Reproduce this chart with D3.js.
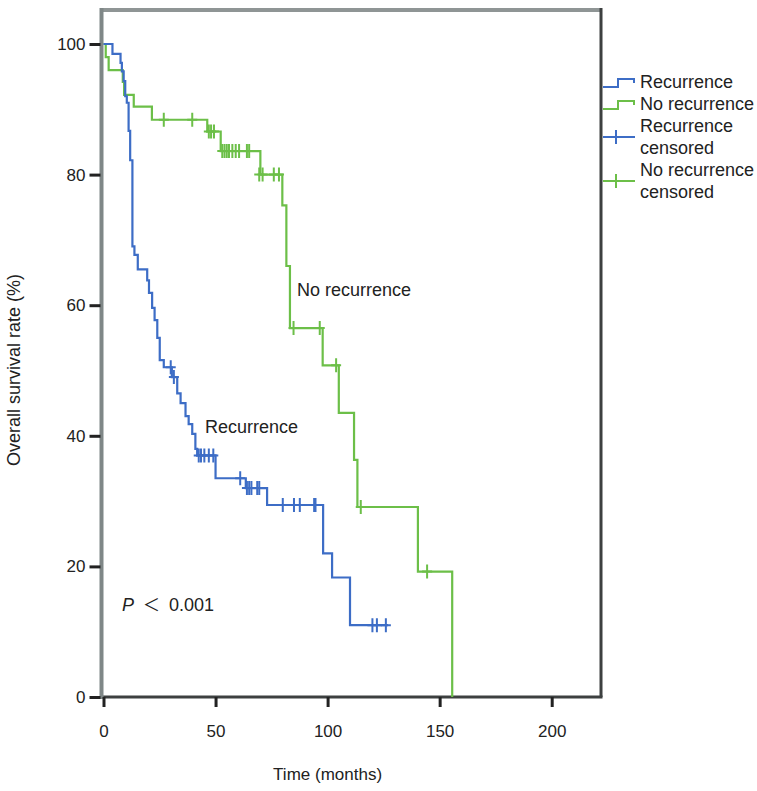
<!DOCTYPE html>
<html>
<head>
<meta charset="utf-8">
<script src="https://cdn.jsdelivr.net/npm/d3@7"></script>
<style>
  html, body { margin: 0; padding: 0; background: #fff; }
  svg { display: block; }
  text { font-family: "Liberation Sans", Arial, sans-serif; fill: #222; }
</style>
</head>
<body>
<svg id="chart" width="757" height="791"></svg>
<script>
// ---- data ----
const xTicks = [0, 50, 100, 150, 200];
const yTicks = [0, 20, 40, 60, 80, 100];

// Recurrence: [time (months), survival (%)] after each step
const recurrenceSteps = [
  [0, 100], [4, 98.5], [7.6, 97.1], [8.2, 95.8], [9, 94.3], [9.7, 92], [10.4, 91],
  [11.2, 86.7], [11.9, 82.2], [12.9, 69], [13.8, 67.7], [15.3, 65.5], [19.5, 63.8],
  [20.3, 61.9], [21.7, 59.6], [22.8, 57.7], [24, 55], [25.1, 51.6], [26.9, 50.5],
  [30.5, 49], [32.9, 46.5], [34.4, 45], [36.6, 43], [38, 41.8], [39.6, 40.3],
  [41, 38], [41.8, 37], [50, 33.5], [63.5, 32], [73, 29.4], [98, 22], [102, 18.3],
  [110, 11], [127, 11]
];
const recurrenceCensored = [
  [30, 50.5], [31.4, 49], [42.5, 37], [43.5, 37], [45, 37], [47, 37], [49, 37],
  [61, 33.5], [64, 32], [65, 32], [66, 32], [68.6, 32], [69.5, 32],
  [80, 29.4], [85, 29.4], [87.6, 29.4], [94, 29.4], [94.6, 29.4],
  [120, 11], [122, 11], [126, 11]
];

// No recurrence
const noRecurrenceSteps = [
  [0, 100], [1, 98], [2.3, 96], [8.6, 94.2], [9.2, 92.2], [13.5, 90.4], [21.6, 88.4],
  [46.3, 86.6], [52.3, 83.6], [70, 80], [79.8, 75.3], [81.6, 66], [83.2, 56.5],
  [97.8, 50.8], [105, 43.5], [111.8, 36.3], [113.3, 29.1], [140.3, 19.2], [155.6, 0]
];
const noRecurrenceCensored = [
  [26.9, 88.4], [39.6, 88.4], [47, 86.6], [48, 86.6], [49.3, 86.6],
  [53, 83.6], [54, 83.6], [55, 83.6], [56, 83.6], [57.5, 83.6], [59, 83.6], [60.5, 83.6],
  [64, 83.6], [65, 83.6], [69.5, 80], [71, 80], [76, 80], [78.3, 80],
  [84.8, 56.5], [96.5, 56.5], [103.8, 50.8], [114.8, 29.1], [144.4, 19.2]
];

const seriesNames = ["Recurrence", "No recurrence"];
const legendLabels = [["Recurrence"], ["No recurrence"], ["Recurrence", "censored"], ["No recurrence", "censored"]];

// ---- drawing ----
const svg = d3.select("#chart");
const blue = "#3d6dc6", green = "#6cbf48";

const x = d3.scaleLinear().domain([0, 222]).range([103.5, 601]);
const y = d3.scaleLinear().domain([0, 100]).range([697, 44]);

const frameLeft = 101.5, frameRight = 601, frameTop = 10, frameBottom = 697;

// frame
svg.append("line").attr("x1", frameLeft).attr("x2", frameRight).attr("y1", frameTop).attr("y2", frameTop)
  .attr("stroke", "#8f9595").attr("stroke-width", 4);
svg.append("line").attr("x1", frameRight).attr("x2", frameRight).attr("y1", frameTop - 2).attr("y2", frameBottom)
  .attr("stroke", "#3d4040").attr("stroke-width", 3);
svg.append("line").attr("x1", frameLeft).attr("x2", frameRight + 1.5).attr("y1", frameBottom).attr("y2", frameBottom)
  .attr("stroke", "#3d4040").attr("stroke-width", 3);
svg.append("line").attr("x1", frameLeft).attr("x2", frameLeft).attr("y1", frameTop - 2).attr("y2", frameBottom + 2)
  .attr("stroke", "#7f8787").attr("stroke-width", 4);

// y axis
const yAxis = d3.axisLeft(y).tickValues(yTicks).tickSize(11).tickPadding(4).tickFormat(d3.format("d"));
const gy = svg.append("g").attr("transform", `translate(${frameLeft - 1},0)`).call(yAxis);
gy.select(".domain").remove();
gy.selectAll(".tick line").attr("stroke", "#222").attr("stroke-width", 3);
gy.selectAll(".tick text").attr("font-size", 17).attr("fill", "#222");

// x axis
const xAxis = d3.axisBottom(x).tickValues(xTicks).tickSize(10).tickPadding(18).tickFormat(d3.format("d"));
const gx = svg.append("g").attr("transform", `translate(0,${frameBottom})`).call(xAxis);
gx.select(".domain").remove();
gx.selectAll(".tick line").attr("stroke", "#222").attr("stroke-width", 3);
gx.selectAll(".tick text").attr("font-size", 17).attr("fill", "#222");

// axis titles
svg.append("text").attr("x", x(100)).attr("y", 780).attr("text-anchor", "middle")
  .attr("font-size", 17).text("Time (months)");
svg.append("text").attr("transform", `translate(20,370) rotate(-90)`).attr("text-anchor", "middle")
  .attr("font-size", 18).text("Overall survival rate (%)");

// curves
const line = d3.line().x(d => x(d[0])).y(d => y(d[1])).curve(d3.curveStepAfter);
svg.append("path").datum(noRecurrenceSteps).attr("d", line)
  .attr("fill", "none").attr("stroke", green).attr("stroke-width", 2.2);
svg.append("path").datum(recurrenceSteps).attr("d", line)
  .attr("fill", "none").attr("stroke", blue).attr("stroke-width", 2.2);

function censor(g, data, color) {
  g.selectAll("path.c").data(data).join("path").attr("class", "c")
    .attr("d", d => `M${x(d[0]) - 5},${y(d[1])}H${x(d[0]) + 5}M${x(d[0])},${y(d[1]) - 7}V${y(d[1]) + 7}`)
    .attr("stroke", color).attr("stroke-width", 2).attr("fill", "none");
}
censor(svg.append("g"), noRecurrenceCensored, green);
censor(svg.append("g"), recurrenceCensored, blue);

// annotations
svg.append("text").attr("x", 297).attr("y", 296).attr("font-size", 18).text(seriesNames[1]);
svg.append("text").attr("x", 205).attr("y", 433).attr("font-size", 18).text(seriesNames[0]);
const p = svg.append("text").attr("y", 611).attr("font-size", 18);
p.append("tspan").attr("x", 122).attr("font-style", "italic").text("P");
p.append("tspan").attr("x", 143).attr("font-family", "Noto Sans CJK SC, sans-serif").attr("font-size", 17).text("＜");
p.append("tspan").attr("x", 169).text("0.001");

// legend
const lx = 603;
const tx = 640;
const legendItems = [
  { color: blue, type: "step", cy: 82, lines: legendLabels[0] },
  { color: green, type: "step", cy: 104, lines: legendLabels[1] },
  { color: blue, type: "cens", cy: 137, lines: legendLabels[2] },
  { color: green, type: "cens", cy: 181, lines: legendLabels[3] }
];
legendItems.forEach(it => {
  if (it.type === "step") {
    svg.append("path").attr("d", `M${lx},${it.cy + 5}H${lx + 15}V${it.cy - 3}H${lx + 31}V${it.cy + 1}`)
      .attr("fill", "none").attr("stroke", it.color).attr("stroke-width", 2);
  } else {
    svg.append("path").attr("d", `M${lx},${it.cy}H${lx + 32}M${lx + 13},${it.cy - 7}V${it.cy + 7}`)
      .attr("fill", "none").attr("stroke", it.color).attr("stroke-width", 2);
  }
  const n = it.lines.length;
  it.lines.forEach((s, i) => {
    svg.append("text").attr("x", tx).attr("y", it.cy + 6 + (i - (n - 1) / 2) * 22)
      .attr("font-size", 18).text(s);
  });
});
</script>
</body>
</html>
